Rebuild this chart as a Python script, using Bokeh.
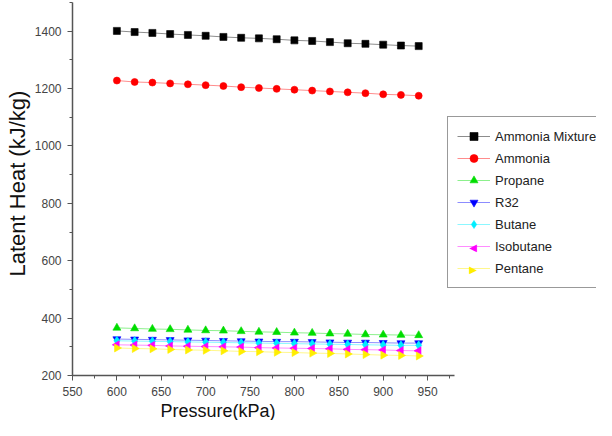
import math
from bokeh.plotting import figure
from bokeh.models import (Range1d, SingleIntervalTicker, Legend, LegendItem, Title, Label)
from bokeh.embed import file_html
from bokeh.resources import INLINE

pressure = [600, 620, 640, 660, 680, 700, 720, 740, 760, 780, 800, 820, 840, 860, 880, 900, 920, 940]
ammonia_mixture = [1401, 1397, 1394, 1390, 1387, 1384, 1380, 1377, 1375, 1372, 1368, 1366, 1362, 1358, 1356, 1353, 1350, 1348]
ammonia = [1228, 1223, 1221, 1218, 1215, 1212, 1209, 1205, 1202, 1199, 1196, 1193, 1190, 1187, 1184, 1180, 1178, 1175]
propane = [366, 364, 362, 361, 359, 357, 356, 354, 352, 351, 349, 348, 346, 345, 343, 342, 341, 340]
r32 = [327, 326, 325, 324, 323, 322, 321, 320, 319, 318, 318, 317, 316, 315, 315, 314, 313, 313]
butane = [321, 320, 319, 318, 317, 316, 315, 314, 313, 312, 311, 310, 309, 308, 307, 306, 305, 305]
isobutane = [307, 306, 305, 303, 302, 301, 300, 299, 297, 296, 295, 294, 293, 291, 290, 289, 287, 286]
pentane = [296, 294, 293, 291, 289, 288, 286, 284, 283, 281, 280, 278, 277, 275, 273, 271, 270, 268]

# name, values, colour, marker, rotation, size, legend symbol override
series = [
    ("Ammonia Mixture", ammonia_mixture, "#000000", "square", 0.0, 7, None),
    ("Ammonia", ammonia, "#ff0000", "circle", 0.0, 7, None),
    ("Propane", propane, "#00dd00", "triangle", 0.0, 8, None),
    ("R32", r32, "#0000ff", "inverted_triangle", 0.0, 8, None),
    ("Butane", butane, "#00eeff", "diamond", 0.0, 9, None),
    ("Isobutane", isobutane, "#ff00ff", "triangle", math.pi / 2, 8, "\u25C0"),
    ("Pentane", pentane, "#ffee00", "triangle", -math.pi / 2, 8, "\u25B6"),
]

p = figure(width=596, height=420, output_backend="svg", toolbar_location=None,
           x_range=Range1d(550, 1140.3), y_range=Range1d(200, 1500),
           min_border_left=0, min_border_right=0, min_border_top=2, min_border_bottom=0)
p.outline_line_color = None
p.xgrid.visible = False
p.ygrid.visible = False

p.xaxis.ticker = SingleIntervalTicker(interval=50, num_minor_ticks=2)
p.yaxis.ticker = SingleIntervalTicker(interval=200, num_minor_ticks=2)
p.xaxis.bounds = (550, 980)
for ax in (p.xaxis, p.yaxis):
    ax.axis_line_color = "#555555"
    ax.axis_line_width = 1.5
    ax.major_tick_line_color = "#555555"
    ax.minor_tick_line_color = "#555555"
    ax.major_tick_in = 0
    ax.major_tick_out = 5
    ax.minor_tick_in = 0
    ax.minor_tick_out = 3
    ax.major_label_text_font = "Liberation Sans"
    ax.major_label_text_font_size = "12px"
    ax.major_label_text_color = "#444444"
    ax.major_label_standoff = 6

# legend geometry (screen px, relative to the frame's bottom-left corner)
leg_x, leg_y, leg_pad, row_h, row_gap, glyph_w = 375, 87, 9, 20, 2, 33
n_rows = len(series)
leg_h = 2 * leg_pad + n_rows * row_h + (n_rows - 1) * row_gap

items = []
overlays = []
for i, (name, vals, color, marker, ang, sz, sym) in enumerate(series):
    r1 = p.line(pressure, vals, line_color=color, line_alpha=0.45, line_width=1)
    r2 = p.scatter(pressure, vals, marker=marker, size=sz, angle=ang,
                   fill_color=color, line_color=color, line_alpha=0.6)
    if sym is None:
        items.append(LegendItem(label=name, renderers=[r1, r2]))
    else:
        items.append(LegendItem(label=name, renderers=[r1]))
        cy = leg_y + leg_h - leg_pad - row_h / 2 - i * (row_h + row_gap)
        cx = leg_x + leg_pad + glyph_w / 2
        overlays.append(Label(x=cx, y=cy, x_units="screen", y_units="screen",
                              text=sym, text_color=color, text_font="DejaVu Sans",
                              text_font_size="10px", text_align="center",
                              text_baseline="middle"))

legend = Legend(items=items, location=(leg_x, leg_y), padding=leg_pad, spacing=row_gap,
                glyph_width=glyph_w, glyph_height=row_h, label_height=row_h, label_standoff=5,
                label_text_font="Liberation Sans", label_text_font_size="13px",
                label_text_color="#222222", border_line_color="#333333",
                border_line_width=1, background_fill_color=None, margin=0)
p.add_layout(legend, "center")
for lab in overlays:
    p.add_layout(lab, "center")

p.add_layout(Title(text="Pressure(kPa)", align="left", offset=88, standoff=0,
                   text_font="Liberation Sans", text_font_size="18px",
                   text_font_style="normal", text_color="#111111"), "below")
p.add_layout(Title(text="Latent Heat (kJ/kg)", align="left", offset=99, standoff=4,
                   text_font="Liberation Sans", text_font_size="22px",
                   text_font_style="normal", text_color="#111111"), "left")

open("out.html", "w").write(file_html(p, INLINE))
